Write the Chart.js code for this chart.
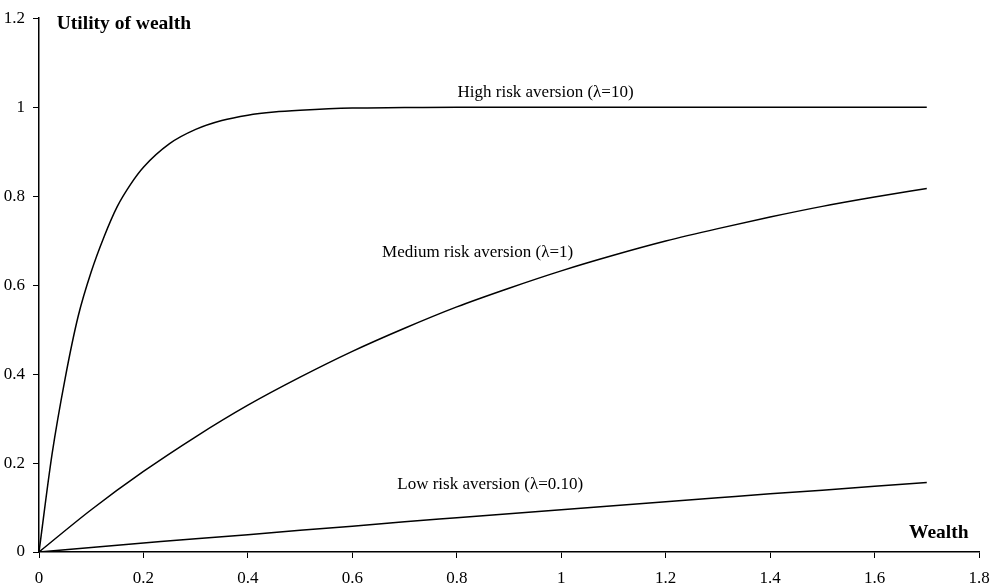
<!DOCTYPE html>
<html lang="en">
<head>
  <meta charset="UTF-8">
  <title>Utility of wealth</title>
  <script src="https://cdn.jsdelivr.net/npm/chart.js"></script>
  <style>
    html, body {
      margin: 0;
      padding: 0;
      background: #ffffff;
      overflow: hidden;
    }
    .wrap {
      width: 1000px;
      height: 588px;
    }
  </style>
</head>
<body>
<div class="wrap">
  <canvas id="chart1" width="1000" height="588"></canvas>
</div>

<script>
  // high risk aversion curve (lambda = 10), denser at the start where it bends
  const highWealth = [0, 0.025, 0.05, 0.075, 0.1, 0.125, 0.15, 0.175, 0.2, 0.25, 0.3, 0.35, 0.4, 0.45, 0.5, 0.6, 0.7, 0.8, 1.0, 1.2, 1.4, 1.7];
  const highUtility = [0, 0.22, 0.39, 0.53, 0.63, 0.71, 0.777, 0.826, 0.865, 0.918, 0.950, 0.970, 0.982, 0.989, 0.993, 0.998, 0.999, 1, 1, 1, 1, 1];

  // medium (lambda = 1) and low (lambda = 0.10)
  const wealth = [0, 0.1, 0.2, 0.3, 0.4, 0.5, 0.6, 0.7, 0.8, 0.9, 1.0, 1.1, 1.2, 1.3, 1.4, 1.5, 1.6, 1.7];
  const mediumUtility = [0, 0.095, 0.181, 0.259, 0.330, 0.393, 0.451, 0.503, 0.551, 0.593, 0.632, 0.667, 0.699, 0.727, 0.753, 0.777, 0.798, 0.817];
  const lowUtility = [0, 0.010, 0.020, 0.030, 0.039, 0.049, 0.058, 0.068, 0.077, 0.086, 0.095, 0.104, 0.113, 0.122, 0.131, 0.139, 0.148, 0.156];

  const xTicks = [0, 0.2, 0.4, 0.6, 0.8, 1, 1.2, 1.4, 1.6, 1.8];
  const yTicks = [0, 0.2, 0.4, 0.6, 0.8, 1, 1.2];

  // text placed on the chart, positions in data units
  const notes = [
    { text: 'High risk aversion (\u03bb=10)', x: 0.97, y: 1.034, bold: false, align: 'center' },
    { text: 'Medium risk aversion (\u03bb=1)', x: 0.84, y: 0.673, bold: false, align: 'center' },
    { text: 'Low risk aversion (\u03bb=0.10)', x: 0.864, y: 0.151, bold: false, align: 'center' },
    { text: 'Utility of wealth', x: 0.034, y: 1.186, bold: true, align: 'left' },
    { text: 'Wealth', x: 1.723, y: 0.042, bold: true, align: 'center' }
  ];

  const toPoints = (xs, ys) => xs.map((x, i) => ({ x: x, y: ys[i] }));

  const notePlugin = {
    id: 'notes',
    afterDatasetsDraw(chart) {
      const ctx = chart.ctx;
      const xs = chart.scales.x, ys = chart.scales.y;
      ctx.save();
      ctx.fillStyle = '#000';
      ctx.textBaseline = 'middle';
      notes.forEach(n => {
        ctx.font = (n.bold ? 'bold 19.5px' : '17px') + ' "Liberation Serif", serif';
        ctx.textAlign = n.align;
        ctx.fillText(n.text, xs.getPixelForValue(n.x), ys.getPixelForValue(n.y));
      });
      ctx.restore();
    }
  };

  const lineStyle = {
    borderColor: '#000',
    borderWidth: 1.5,
    pointRadius: 0,
    fill: false,
    cubicInterpolationMode: 'monotone'
  };

  new Chart(document.getElementById('chart1').getContext('2d'), {
    type: 'line',
    data: {
      datasets: [
        Object.assign({ label: 'High', data: toPoints(highWealth, highUtility) }, lineStyle),
        Object.assign({ label: 'Medium', data: toPoints(wealth, mediumUtility) }, lineStyle),
        Object.assign({ label: 'Low', data: toPoints(wealth, lowUtility) }, lineStyle)
      ]
    },
    options: {
      responsive: false,
      animation: false,
      layout: { padding: { top: 14, right: 21, left: 0, bottom: 0 } },
      plugins: {
        legend: { display: false },
        tooltip: { enabled: false }
      },
      scales: {
        x: {
          type: 'linear',
          min: 0,
          max: 1.8,
          afterFit: s => { s.height = 36; },
          afterBuildTicks: s => { s.ticks = xTicks.map(v => ({ value: v })); },
          ticks: {
            color: '#000',
            padding: 10,
            maxRotation: 0,
            font: { family: '"Liberation Serif", serif', size: 17 },
            callback: v => String(+v.toFixed(1))
          },
          grid: { drawOnChartArea: false, drawTicks: true, tickLength: 6, color: '#000', lineWidth: 1 },
          border: { display: true, color: '#000', width: 1.5 }
        },
        y: {
          type: 'linear',
          min: 0,
          max: 1.2,
          afterFit: s => { s.width = 39; },
          afterBuildTicks: s => { s.ticks = yTicks.map(v => ({ value: v })); },
          ticks: {
            color: '#000',
            padding: 8,
            font: { family: '"Liberation Serif", serif', size: 17 },
            callback: v => String(+v.toFixed(1))
          },
          grid: { drawOnChartArea: false, drawTicks: true, tickLength: 6, color: '#000', lineWidth: 1 },
          border: { display: true, color: '#000', width: 1.5 }
        }
      }
    },
    plugins: [notePlugin]
  });
</script>
</body>
</html>
